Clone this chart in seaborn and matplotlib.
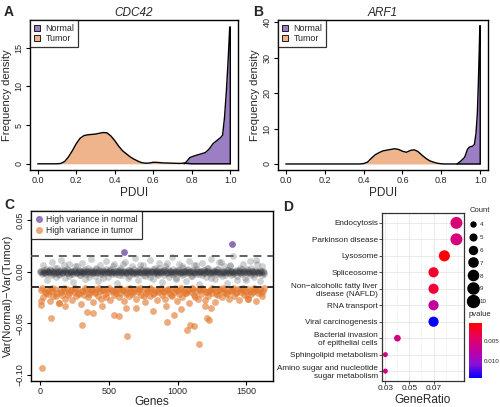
import numpy as np
import pandas as pd
import matplotlib
matplotlib.use("Agg")
import matplotlib.pyplot as plt
import seaborn as sns
from matplotlib.colors import LinearSegmentedColormap, Normalize
from matplotlib.cm import ScalarMappable
from matplotlib.patches import Patch
from matplotlib.lines import Line2D

# ---- data: density curves (A, B) ----
a_tumor_x = [0.0, 0.10, 0.12, 0.14, 0.16, 0.18, 0.20, 0.22, 0.24, 0.26, 0.28, 0.30, 0.32, 0.34,
             0.36, 0.38, 0.40, 0.42, 0.44, 0.46, 0.48, 0.50, 0.52, 0.54, 0.56, 0.58, 0.60, 0.62,
             0.65, 0.70, 0.74, 0.76, 0.78, 0.80]
a_tumor_y = [0.0, 0.0, 0.05, 0.3, 0.9, 1.7, 2.6, 3.3, 3.65, 3.75, 3.8, 3.85, 3.95, 4.05,
             4.0, 3.6, 3.0, 2.3, 1.7, 1.3, 0.9, 0.6, 0.35, 0.15, 0.08, 0.1, 0.2, 0.18,
             0.12, 0.08, 0.05, 0.1, 0.05, 0.0]
a_normal_x = [0.76, 0.77, 0.79, 0.81, 0.83, 0.85, 0.87, 0.89, 0.91, 0.93, 0.95, 0.96, 0.97,
              0.98, 0.99, 0.997, 1.0, 1.0]
a_normal_y = [0.0, 0.2, 0.8, 1.0, 1.15, 1.3, 1.45, 1.9, 2.6, 3.0, 3.4, 3.7, 6.0,
              9.5, 14.0, 17.7, 17.7, 0.0]

b_tumor_x = [0.0, 0.38, 0.40, 0.42, 0.44, 0.46, 0.48, 0.50, 0.52, 0.54, 0.56, 0.58, 0.60,
             0.62, 0.64, 0.66, 0.68, 0.70, 0.72, 0.74, 0.76, 0.78, 0.80, 0.82, 0.90]
b_tumor_y = [0.0, 0.0, 0.1, 0.5, 1.6, 2.6, 3.2, 3.7, 3.9, 4.1, 4.3, 4.1, 3.6,
             3.3, 3.8, 4.0, 3.5, 2.5, 1.6, 0.9, 0.5, 0.2, 0.05, 0.0, 0.0]
b_normal_x = [0.88, 0.90, 0.92, 0.935, 0.945, 0.96, 0.97, 0.978, 0.985, 0.99, 0.995, 0.998, 1.0, 1.0]
b_normal_y = [0.0, 0.8, 1.9, 4.2, 4.8, 5.0, 5.5, 8.5, 14.0, 22.0, 32.0, 39.0, 39.0, 0.0]

# ---- data: variance difference per gene (C), values x 1e-3 ----
n_genes = 1628
gray_vals = [0, 1, -2, 6, 0, -1, 3, -8, 1, 0, 2, -3, 9, 0, -1, 1, -5, 4, 0, -2, 1, 11, -1, 0,
             2, -6, 0, 3, -1, 7, 0, -2, 1, -10, 0, 2, -1, 5, 0, 1, -3, 0, 8, -1, 2, 0, -7, 1,
             0, 4, -2, 0, 12, 1, -1, 0, -4, 3, 0, -9, 1, 6, 0, -2, 2, 0, -1, 10, 0, -5, 1, 3,
             0, -2, 0, 7, -1, 1, -11, 0, 2, 4, 0, -3, 1, 0, 9, -1, 0, -6, 2, 1, 0, 5, -2, 0,
             13, -1, 1, -8, 0, 3, 0, -1, 6, 0, -4, 2, 1, 0, -2, 11, 0, 1, -7, 0, 4, -1, 2, 0,
             -3, 8, 0, 1, -10, 0, 2, 5, -1, 0, 3, -5, 1, 0, 14, -2, 0, 1, -6, 2, 0, 7, -1, 0,
             -3, 4, 1, 0, -9, 2, 0, 10, -1, 1, -4, 0, 6, 0, -2, 3, 0, -12, 1, 0, 8, -1, 2, 0,
             -5, 1, 4, 0, -2, 12, 0, -1, 1, -7, 0, 3, 0, 9, -2, 1, -4, 0, 5, 0, -1, -11, 2, 0,
             6, 1, -3, 0, 15, -1, 0, 2, -8, 1, 0, 4, -2, 0, 7, 1, -6, 0, 3, -1, 0, 10, -3, 1,
             0, -5, 2, 11, 0, -1, 1, -9, 0, 5, 0, -2]
gray_vals2 = [1, 0, -1, 2, 0, -2, 1, 0, -1, 3, 0, 1, -2, 0, 4, -1, 0, 1, -3, 0, 2, -1, 0, 6,
              1, 0, -1, 2, -4, 0, 1, 0, -2, 1, 5, 0, -1, 0, 2, -3, 1, 0, -1, 0, 3, -2, 0, 1,
              -5, 0, 2, 0, -1, 1, 0, 4, -1, 0, 2, -2, 0, 1, -6, 0, 1, 3, 0, -1, 0, 2, -1, 0,
              5, 1, 0, -2, 1, 0, -3, 2, 0, -1, 7, 0, 1, -1, 0, 2, -4, 0, 1, 0, -1, 3, 0, -2,
              1, 0, -1, 6, 0, 2, -3, 0, 1, 0, -1, 2, 0, -5, 1, 0, 3, -1, 0, 1, -2, 0, 4, 0,
              -1, 1, 0, -3, 2, 0, 8, -1, 0, 1, -2, 0, 3, 0, -1, -7, 1, 0, 2, -1, 0, 5, 0, -2,
              1, 0, -1, 3, 0, 1, -4, 0, 2, -1, 0, 6, 1, 0, -2, 0, 1, -3, 0, 2, -1, 0, 4, 1,
              0, -1, -6, 0, 2, 0, 1, -2, 0, 3, -1, 0, 9, 0, -1, 1, -3, 0, 2, 0, -1, 5, 1, 0,
              -2, 0, 1, -4, 0, 2, -1, 0, 3, 0, -1, 1, -8, 0, 2, 0, -1, 4, 1, 0, -2, 0, 1, 7,
              0, -1, 2, 0, -3, 1, 0]
orange_genes = [10, 22, 35, 48, 60, 72, 85, 97, 110, 122, 135, 147, 160, 172, 185, 197, 210, 222,
                235, 247, 260, 272, 285, 297, 310, 322, 335, 347, 360, 372, 385, 397, 410, 422,
                435, 447, 460, 472, 485, 497, 510, 522, 535, 547, 560, 572, 585, 597, 610, 622,
                635, 647, 660, 672, 685, 697, 710, 722, 735, 747, 760, 772, 785, 797, 810, 822,
                835, 847, 860, 872, 885, 897, 910, 922, 935, 947, 960, 972, 985, 997, 1010, 1022,
                1035, 1047, 1060, 1072, 1085, 1097, 1110, 1122, 1135, 1147, 1160, 1172, 1185, 1197,
                1210, 1222, 1235, 1247, 1260, 1272, 1285, 1297, 1310, 1322, 1335, 1347, 1360, 1372,
                1385, 1397, 1410, 1422, 1435, 1447, 1460, 1472, 1485, 1497, 1510, 1522, 1535, 1547,
                1560, 1572, 1585, 1597, 1610, 1622,
                16, 41, 66, 91, 116, 153, 178, 203, 228, 253, 278, 303, 328, 353, 378, 403, 428,
                453, 478, 503, 528, 553, 578, 603, 628, 653, 678, 703, 728, 753, 778, 803, 828,
                853, 878, 903, 928, 953, 978, 1003, 1028, 1053, 1078, 1103, 1128, 1153, 1178, 1203,
                1228, 1253, 1278, 1303, 1328, 1353, 1378, 1403, 1428, 1453, 1478, 1503, 1528, 1553,
                1578, 1603, 1625,
                17, 5, 8, 77, 307, 343, 385, 536, 573, 628, 633, 819, 915, 922, 971, 1024, 1067,
                1087, 1116, 1159, 1200, 1213, 1225, 1240, 450, 700, 140, 180, 1514]
orange_vals = [-18, -25, -20, -17, -22, -28, -19, -24, -17, -21, -30, -18, -23, -19, -26, -17, -21, -18,
               -27, -20, -24, -17, -22, -31, -19, -23, -17, -25, -20, -18, -29, -21, -17, -24,
               -19, -26, -18, -22, -17, -20, -27, -18, -23, -19, -17, -25, -21, -18, -28, -20,
               -17, -24, -19, -22, -17, -26, -20, -18, -23, -17, -29, -21, -19, -24, -17, -22,
               -18, -27, -20, -17, -23, -19, -26, -18, -21, -17, -24, -20, -18, -28, -22, -17,
               -25, -19, -21, -18, -30, -20, -17, -23, -19, -26, -18, -22, -17, -27,
               -20, -24, -18, -21, -17, -29, -19, -23, -18, -25, -20, -17, -22, -26,
               -19, -18, -24, -21, -17, -27, -20, -18, -23, -19, -26, -17, -22, -20,
               -18, -28, -21, -17, -24, -19,
               -16, -21, -19, -16, -24, -20, -16, -23, -18, -16, -21, -19, -16, -22, -17, -20, -16,
               -18, -25, -16, -19, -21, -16, -18, -22, -16, -20, -17, -16, -24, -18, -16, -21,
               -19, -16, -20, -17, -23, -16, -19, -16, -21, -18, -16, -25, -17, -16, -20,
               -19, -16, -22, -17, -16, -21, -18, -16, -20, -17, -16, -23, -19, -16,
               -18, -21, -16,
               -93, -32, -28, -45, -52, -39, -40, -42, -43, -35, -62, -38, -33, -49, -42, -36, -56,
               -52, -53, -70, -33, -45, -47, -35, -33, -35, -30, -33, -26]
purple_genes = [609, 1394]
purple_vals = [19, 27]
cutoff = 0.015

# ---- data: KEGG enrichment (D) ----
terms = ["Endocytosis", "Parkinson disease", "Lysosome", "Spliceosome",
         "Non\u2212alcoholic fatty liver\ndisease (NAFLD)", "RNA transport",
         "Viral carcinogenesis", "Bacterial invasion\nof epithelial cells",
         "Sphingolipid metabolism", "Amino sugar and nucleotide\nsugar metabolism"]
gene_ratio = [0.089, 0.089, 0.079, 0.070, 0.070, 0.070, 0.070, 0.040, 0.030, 0.030]
gene_count = [10, 10, 9, 8, 8, 8, 8, 5, 4, 4]
pvalue = [0.0052, 0.0055, 0.0006, 0.0022, 0.0024, 0.0072, 0.0140, 0.0060, 0.0058, 0.0063]
count_breaks = [4, 5, 6, 7, 8, 9, 10]

NORMAL_FILL = "#9C7EC4"
TUMOR_FILL = "#F0B48C"

sns.set_theme(style="white")
plt.rcParams["font.family"] = ["Liberation Sans", "DejaVu Sans"]
plt.rcParams["axes.unicode_minus"] = True

fig = plt.figure(figsize=(5, 4.07), dpi=100)
W, H = 500, 407


def px_axes(x0, y0, x1, y1):
    return fig.add_axes([x0 / W, 1 - y1 / H, (x1 - x0) / W, (y1 - y0) / H])


def r_style(ax):
    for s in ax.spines.values():
        s.set_color("black")
        s.set_linewidth(1.0)
    ax.tick_params(direction="out", length=3, width=0.8, color="black",
                   labelsize=6.5, pad=1.5, bottom=True, left=True)
    for lab in ax.get_yticklabels():
        lab.set_rotation(90)
        lab.set_va("center")


def density_panel(ax, tx, ty, nx, ny, title, ylim, yticks):
    ax.fill_between(nx, ny, color=NORMAL_FILL, lw=0)
    ax.fill_between(tx, ty, color=TUMOR_FILL, lw=0)
    sns.lineplot(x=tx + [1.0], y=ty + [0.0], ax=ax, color="black", lw=1.0,
                 sort=False, estimator=None)
    sns.lineplot(x=nx, y=ny, ax=ax, color="black", lw=1.0, sort=False, estimator=None)
    ax.set_xlim(-0.04, 1.04)
    ax.set_ylim(*ylim)
    ax.set_xticks([0.0, 0.2, 0.4, 0.6, 0.8, 1.0])
    ax.set_xticklabels(["0.0", "0.2", "0.4", "0.6", "0.8", "1.0"])
    ax.set_yticks(yticks)
    ax.set_yticklabels([str(v) for v in yticks])
    ax.set_xlabel("PDUI", fontsize=8.5, labelpad=1)
    ax.set_ylabel("Frequency density", fontsize=8, labelpad=2)
    ax.set_title(title, fontsize=8.5, style="italic", pad=3)
    r_style(ax)
    handles = [Patch(facecolor=NORMAL_FILL, edgecolor="black", lw=0.6),
               Patch(facecolor=TUMOR_FILL, edgecolor="black", lw=0.6)]
    leg = ax.legend(handles, ["Normal", "Tumor"], loc="upper left", borderaxespad=0,
                    fontsize=6.4, frameon=True, fancybox=False, handlelength=0.7,
                    handleheight=0.7, handletextpad=0.6, borderpad=0.45, labelspacing=0.15)
    leg.get_frame().set_edgecolor("black")
    leg.get_frame().set_linewidth(0.9)


# ---- A ----
axa = px_axes(30, 20, 238, 170)
density_panel(axa, a_tumor_x, a_tumor_y, a_normal_x, a_normal_y, "CDC42",
              (-0.8, 18.6), [0, 5, 10, 15])

# ---- B ----
axb = px_axes(278, 20, 488, 170)
density_panel(axb, b_tumor_x, b_tumor_y, b_normal_x, b_normal_y, "ARF1",
              (-1.7, 40.6), [0, 10, 20, 30, 40])

# ---- C ----
axc = px_axes(31, 211, 273, 381)
gray_genes = np.linspace(1, n_genes, len(gray_vals))
gray_genes2 = np.linspace(4, n_genes - 3, len(gray_vals2))
sns.scatterplot(x=gray_genes, y=np.array(gray_vals) / 1000, ax=axc, color="#2c3036",
                alpha=0.22, s=24, linewidth=0)
sns.scatterplot(x=gray_genes2, y=np.array(gray_vals2) / 1000, ax=axc, color="#2c3036",
                alpha=0.22, s=24, linewidth=0)
sns.scatterplot(x=orange_genes, y=np.array(orange_vals) / 1000, ax=axc, color="#E3782D",
                alpha=0.62, s=24, linewidth=0)
sns.scatterplot(x=purple_genes, y=np.array(purple_vals) / 1000, ax=axc, color="#7D55A8",
                alpha=0.85, s=24, linewidth=0)
axc.axhline(cutoff, color="#555555", lw=1.3, ls=(0, (4.4, 3.3)), zorder=5)
axc.axhline(-cutoff, color="#222222", lw=1.3, ls=(0, (4.4, 3.3)), zorder=5)
axc.set_xlim(-65, 1693)
axc.set_ylim(-0.1058, 0.0587)
axc.set_xticks([0, 500, 1000, 1500])
axc.set_yticks([-0.10, -0.05, 0.0, 0.05])
axc.set_yticklabels(["\u22120.10", "\u22120.05", "0.00", "0.05"])
axc.set_xlabel("Genes", fontsize=8.5, labelpad=0)
axc.set_ylabel("Var(Normal)\u2212Var(Tumor)", fontsize=8, labelpad=2)
r_style(axc)
handles = [Line2D([], [], ls="", marker="o", ms=4, color="#8E6BB8", alpha=0.9),
           Line2D([], [], ls="", marker="o", ms=4, color="#EBA070", alpha=0.9)]
leg = axc.legend(handles, ["High variance in normal", "High variance in tumor"],
                 loc="upper left", borderaxespad=0, fontsize=6.2, frameon=True, fancybox=False,
                 handlelength=1.0, handletextpad=0.3, borderpad=0.45, labelspacing=0.3)
leg.get_frame().set_edgecolor("black")
leg.get_frame().set_linewidth(0.9)

# ---- D ----
cmap = LinearSegmentedColormap.from_list(
    "p", [(0, "#FF0000"), (0.25, "#E8005C"), (0.5, "#C1009E"), (0.75, "#8A10DA"), (1, "#0000FF")])
p_norm = Normalize(0.0004, 0.0142)
size_range = (13, 74)
size_norm = (4, 10)

axd = px_axes(382, 213, 464, 381)
ddf = pd.DataFrame({"term": terms, "GeneRatio": gene_ratio, "Count": gene_count, "pvalue": pvalue})
sns.scatterplot(data=ddf, x="GeneRatio", y="term", size="Count", sizes=size_range,
                size_norm=size_norm, hue="pvalue", palette=cmap, hue_norm=p_norm,
                ax=axd, legend=False, linewidth=0, zorder=3)
axd.set_ylim(len(terms) - 0.4, -0.6)
axd.set_xlim(0.0272, 0.0953)
axd.set_xticks([0.03, 0.05, 0.07])
axd.set_xticklabels(["0.03", "0.05", "0.07"])
axd.set_xticks([0.04, 0.06, 0.08, 0.09], minor=True)
axd.grid(True, which="major", color="#E6E6E6", lw=0.6)
axd.grid(True, which="minor", axis="x", color="#F0F0F0", lw=0.4)
axd.set_axisbelow(True)
for s in axd.spines.values():
    s.set_color("#333333")
    s.set_linewidth(0.9)
axd.tick_params(axis="both", which="major", direction="out", length=2, width=0.6,
                color="#333333", labelsize=5.9, pad=1, bottom=True, left=True,
                labelcolor="#222222")
axd.tick_params(axis="x", which="minor", length=0)
for lab in axd.get_yticklabels():
    lab.set_ha("right")
axd.set_xlabel("GeneRatio", fontsize=8.5, labelpad=1)
axd.set_ylabel("")

# size legend
smin, smax = size_range
leg_handles = [Line2D([], [], ls="", marker="o", color="black",
                      ms=np.sqrt(smin + (c - size_norm[0]) / (size_norm[1] - size_norm[0]) * (smax - smin)))
               for c in count_breaks]
sleg = fig.legend(leg_handles, [str(c) for c in count_breaks], title="Count",
                  loc="upper left", bbox_to_anchor=(466 / W, 1 - 204 / H), frameon=False,
                  fontsize=4.5, title_fontsize=5.5, handlelength=1.2, handletextpad=0.5,
                  labelspacing=1.2, borderpad=0, alignment="left")

# colorbar
cax = px_axes(469, 323, 481.5, 378)
cb = fig.colorbar(ScalarMappable(norm=p_norm, cmap=cmap), cax=cax)
cb.outline.set_visible(False)
cax.invert_yaxis()
cb.set_ticks([0.005, 0.010])
cb.set_ticklabels(["0.005", "0.010"])
cax.tick_params(length=2, color="white", width=0.5, labelsize=4.5, pad=1.5, direction="in")
fig.text(469 / W, 1 - 315 / H, "pvalue", fontsize=5.5, va="center", ha="left")

# panel letters
for letter, x, y in [("A", 4, 12), ("B", 253, 12), ("C", 4, 205), ("D", 283, 207)]:
    fig.text(x / W, 1 - y / H, letter, fontsize=10, fontweight="bold", va="center", ha="left")

fig.savefig("out.png", dpi=100)
